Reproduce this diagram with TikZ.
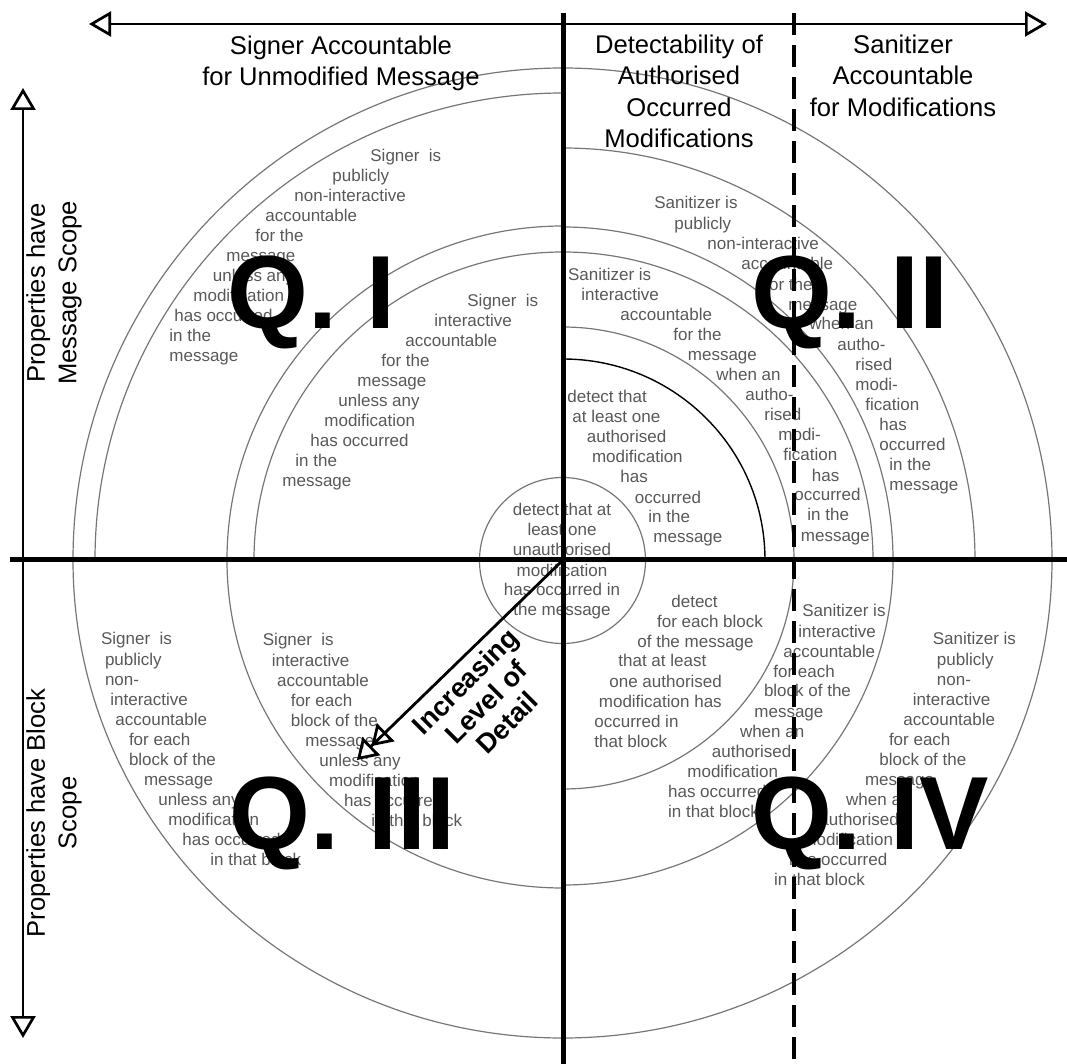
\documentclass[tikz,border=0pt]{standalone}
\usepackage{fontspec}
\setmainfont{Liberation Sans}
\usetikzlibrary{arrows.meta}
\definecolor{txtgray}{RGB}{88,88,88}
\definecolor{arcgray}{RGB}{118,118,118}

% one node per text line: style, name prefix, list of x/baseline/text
\newcommand\textlines[3]{%
  \foreach \lx/\ly/\lt [count=\li] in {#3} {\node[#1] (#2-\li) at (\lx,\ly) {\lt};}}

\begin{document}
\begin{tikzpicture}[x=0.5pt,y=-0.5pt,
  garc/.style={draw=arcgray,line width=0.6pt},
  barc/.style={draw=black,line width=0.7pt},
  gtext/.style={anchor=base west,inner sep=0pt,text=txtgray,font=\fontsize{8.5}{10}\selectfont},
  gctext/.style={gtext,anchor=base},
  htext/.style={anchor=base,inner sep=0pt,font=\fontsize{12.8}{15.75}\selectfont},
  sidetext/.style={rotate=90,align=center,inner sep=0pt,font=\fontsize{12.8}{15.75}\selectfont},
  qlabel/.style={anchor=base west,inner sep=0pt,font=\fontsize{52}{52}\selectfont\bfseries},
  axisline/.style={line width=2.5pt},
  splitline/.style={line width=2pt,dash pattern=on 11pt off 5pt},
  scalearrow/.style={line width=1.35pt,{Triangle[open,length=11pt,width=12.5pt]}-{Triangle[open,length=11pt,width=12.5pt]}},
  detailarrow/.style={line width=1.4pt,
    -{Triangle[open,length=10pt,width=12.5pt]Triangle[open,length=10pt,width=12.5pt]}}
]
\useasboundingbox (0,0) rectangle (1067,1064);

% ---------- concentric rings, drawn quadrant by quadrant ----------
% top left
\draw[garc] (73,560) arc[start angle=180,end angle=270,x radius=490,y radius=492];
\draw[garc] (95,560) arc[start angle=180,end angle=270,x radius=468,y radius=467];
\draw[garc] (227,560) arc[start angle=180,end angle=270,x radius=336,y radius=334];
\draw[garc] (254,560) arc[start angle=180,end angle=270,x radius=309,y radius=308];
% top right
\draw[garc] (563,68) arc[start angle=270,end angle=360,x radius=489,y radius=492];
\draw[garc] (563,148) arc[start angle=270,end angle=360,x radius=412,y radius=412];
\draw[garc] (563,227) arc[start angle=270,end angle=360,x radius=330,y radius=333];
\draw[garc] (563,252) arc[start angle=270,end angle=360,x radius=310,y radius=308];
\draw[garc] (563,327) arc[start angle=270,end angle=360,x radius=231,y radius=233];
\draw[barc] (563,359) arc[start angle=270,end angle=360,x radius=202,y radius=201];
% bottom right
\draw[garc] (1052,560) arc[start angle=0,end angle=90,x radius=489,y radius=478];
\draw[garc] (893,560) arc[start angle=0,end angle=90,x radius=330,y radius=325];
\draw[garc] (794,560) arc[start angle=0,end angle=90,x radius=231,y radius=229];
% bottom left
\draw[garc] (563,1038) arc[start angle=90,end angle=180,x radius=490,y radius=478];
\draw[garc] (563,888) arc[start angle=90,end angle=180,x radius=336,y radius=328];
% innermost circle
\draw[garc] (562.5,560.5) circle[radius=83];

% ---------- property texts ----------
\textlines{gtext}{qIo}{370/162/Signer~ is, 332/182/publicly, 294/202/non-interactive,
  265/222/accountable, 255/242/for the, 226/262/message, 212.5/282/unless any,
  193/302/modification, 174/322/has occurred, 169/342/in the, 169/362/message}
\textlines{gtext}{qIi}{467/307/Signer~ is, 434/327/interactive, 405/347/accountable,
  381/367/for the, 357/387/message, 338/407/unless any, 324/427/modification,
  310/447/has occurred, 295/467/in the, 282/487/message}
\textlines{gtext}{qIIo}{654/209/Sanitizer is, 674/230/publicly, 707/250/non-interactive,
  741/270/accountable, 764/291/for the, 788/311/message, 809/330/when an,
  837/351/autho-, 855/371/rised, 855/391/modi-, 865/411/fication, 879/431/has,
  879/451/occurred, 889/471/in the, 889/491/message}
\textlines{gtext}{qIIi}{567.7/281/Sanitizer is, 581/301/interactive, 620/321/accountable,
  673/341/for the, 687.5/361/message, 716/381/when an, 745/401/autho-, 764/421/rised,
  778/441/modi-, 783/461/fication, 811.5/481/has, 794/501/occurred, 807/521/in the,
  800.5/542/message}
\textlines{gtext}{qIIc}{567/403/detect that, 572/423/at least one, 586.5/443/authorised,
  591.6/463/modification, 620/483/has, 634.5/503/occurred, 648/523/in the, 653/543/message}
\textlines{gctext}{ctr}{562/516/detect that at, 562/536/least one, 562/556/unauthorised,
  562/576/modification, 562/596/has occurred in, 562/616/the message}
\textlines{gtext}{qIIIo}{100.7/645/Signer~ is, 104.6/665/publicly, 104.6/685/non-,
  110/705/interactive, 115/725/accountable, 128.6/745/for each, 128.6/765/block of the,
  143.6/785/message, 157.9/805/unless any, 167.9/825/modification, 182/845/has occurred,
  210/865/in that block}
\textlines{gtext}{qIIIi}{262.5/646/Signer~ is, 271.4/666/interactive, 276.8/686/accountable,
  290.4/706/for each, 290.4/726/block of the, 305/746/message, 319/766/unless any,
  328.6/786/modification, 343.6/806/has occurred, 371/826/in that block}
\textlines{gtext}{qIVi}{671/607/detect, 656.7/627/for each block, 637/647/of the message,
  618/667/that at least, 609/687/one authorised, 598.5/707/modification has,
  594/727/occurred in, 594/747/that block}
\textlines{gtext}{qIVm}{802/617/Sanitizer is, 798/637/interactive, 783/657/accountable,
  773/677/for each, 763.6/697/block of the, 754/717/message, 739.6/737/when an,
  711.5/757/authorised, 687/777/modification, 667.7/797/has occurred, 667.7/817/in that block}
\textlines{gtext}{qIVo}{932.4/645/Sanitizer is, 936.5/665/publicly, 936.5/685/non-,
  912.5/705/interactive, 903/725/accountable, 888.6/745/for each, 879/765/block of the,
  864.6/785/message, 845.8/805/when an, 819/825/authorised, 802/845/modification,
  788.6/865/has occurred, 773.8/885/in that block}

% ---------- quadrant labels ----------
\node[qlabel] (q1) at (227.5,329) {Q. I};
\node[qlabel] (q2) at (751.5,329) {Q. II};
\node[qlabel] (q3) at (229.5,849) {Q. III};
\node[qlabel] (q4) at (751.5,849) {Q. IV};

% ---------- axes ----------
\coordinate (hl) at (10,560);   \coordinate (hr) at (1067,560);
\coordinate (vt) at (563,13);   \coordinate (vb) at (563,1064);
\coordinate (dt) at (794,13);   \coordinate (db) at (794,1064);
\draw[axisline] (hl) -- (hr);
\draw[axisline] (vt) -- (vb);
\draw[splitline] (dt) -- (db);

\coordinate (al) at (89,24);    \coordinate (ar) at (1047,24);
\coordinate (at) at (23,88);    \coordinate (ab) at (23,1038);
\draw[scalearrow] (al) -- (ar);
\draw[scalearrow] (at) -- (ab);

% ---------- headings ----------
\textlines{htext}{hI}{341/55/Signer Accountable, 341/86/for Unmodified Message}
\textlines{htext}{hD}{679/54/Detectability of, 679/85/Authorised, 679/117/Occurred, 679/148/Modifications}
\textlines{htext}{hS}{903/54/Sanitizer, 903/85/Accountable, 903/117/for Modifications}
\node[sidetext] (sm) at (54,293) {Properties have\\Message Scope};
\node[sidetext] (sb) at (54,813) {Properties have Block\\Scope};

% ---------- level of detail ----------
\coordinate (dctr) at (562,561);
\coordinate (dtip) at (357,760);
\draw[detailarrow] (dctr) -- (dtip);
\node[rotate=45,align=center,inner sep=0pt,font=\fontsize{13.6}{14.75}\selectfont\bfseries]
  (lod) at (486,702) {Increasing\\Level of\\Detail};
\end{tikzpicture}
\end{document}
